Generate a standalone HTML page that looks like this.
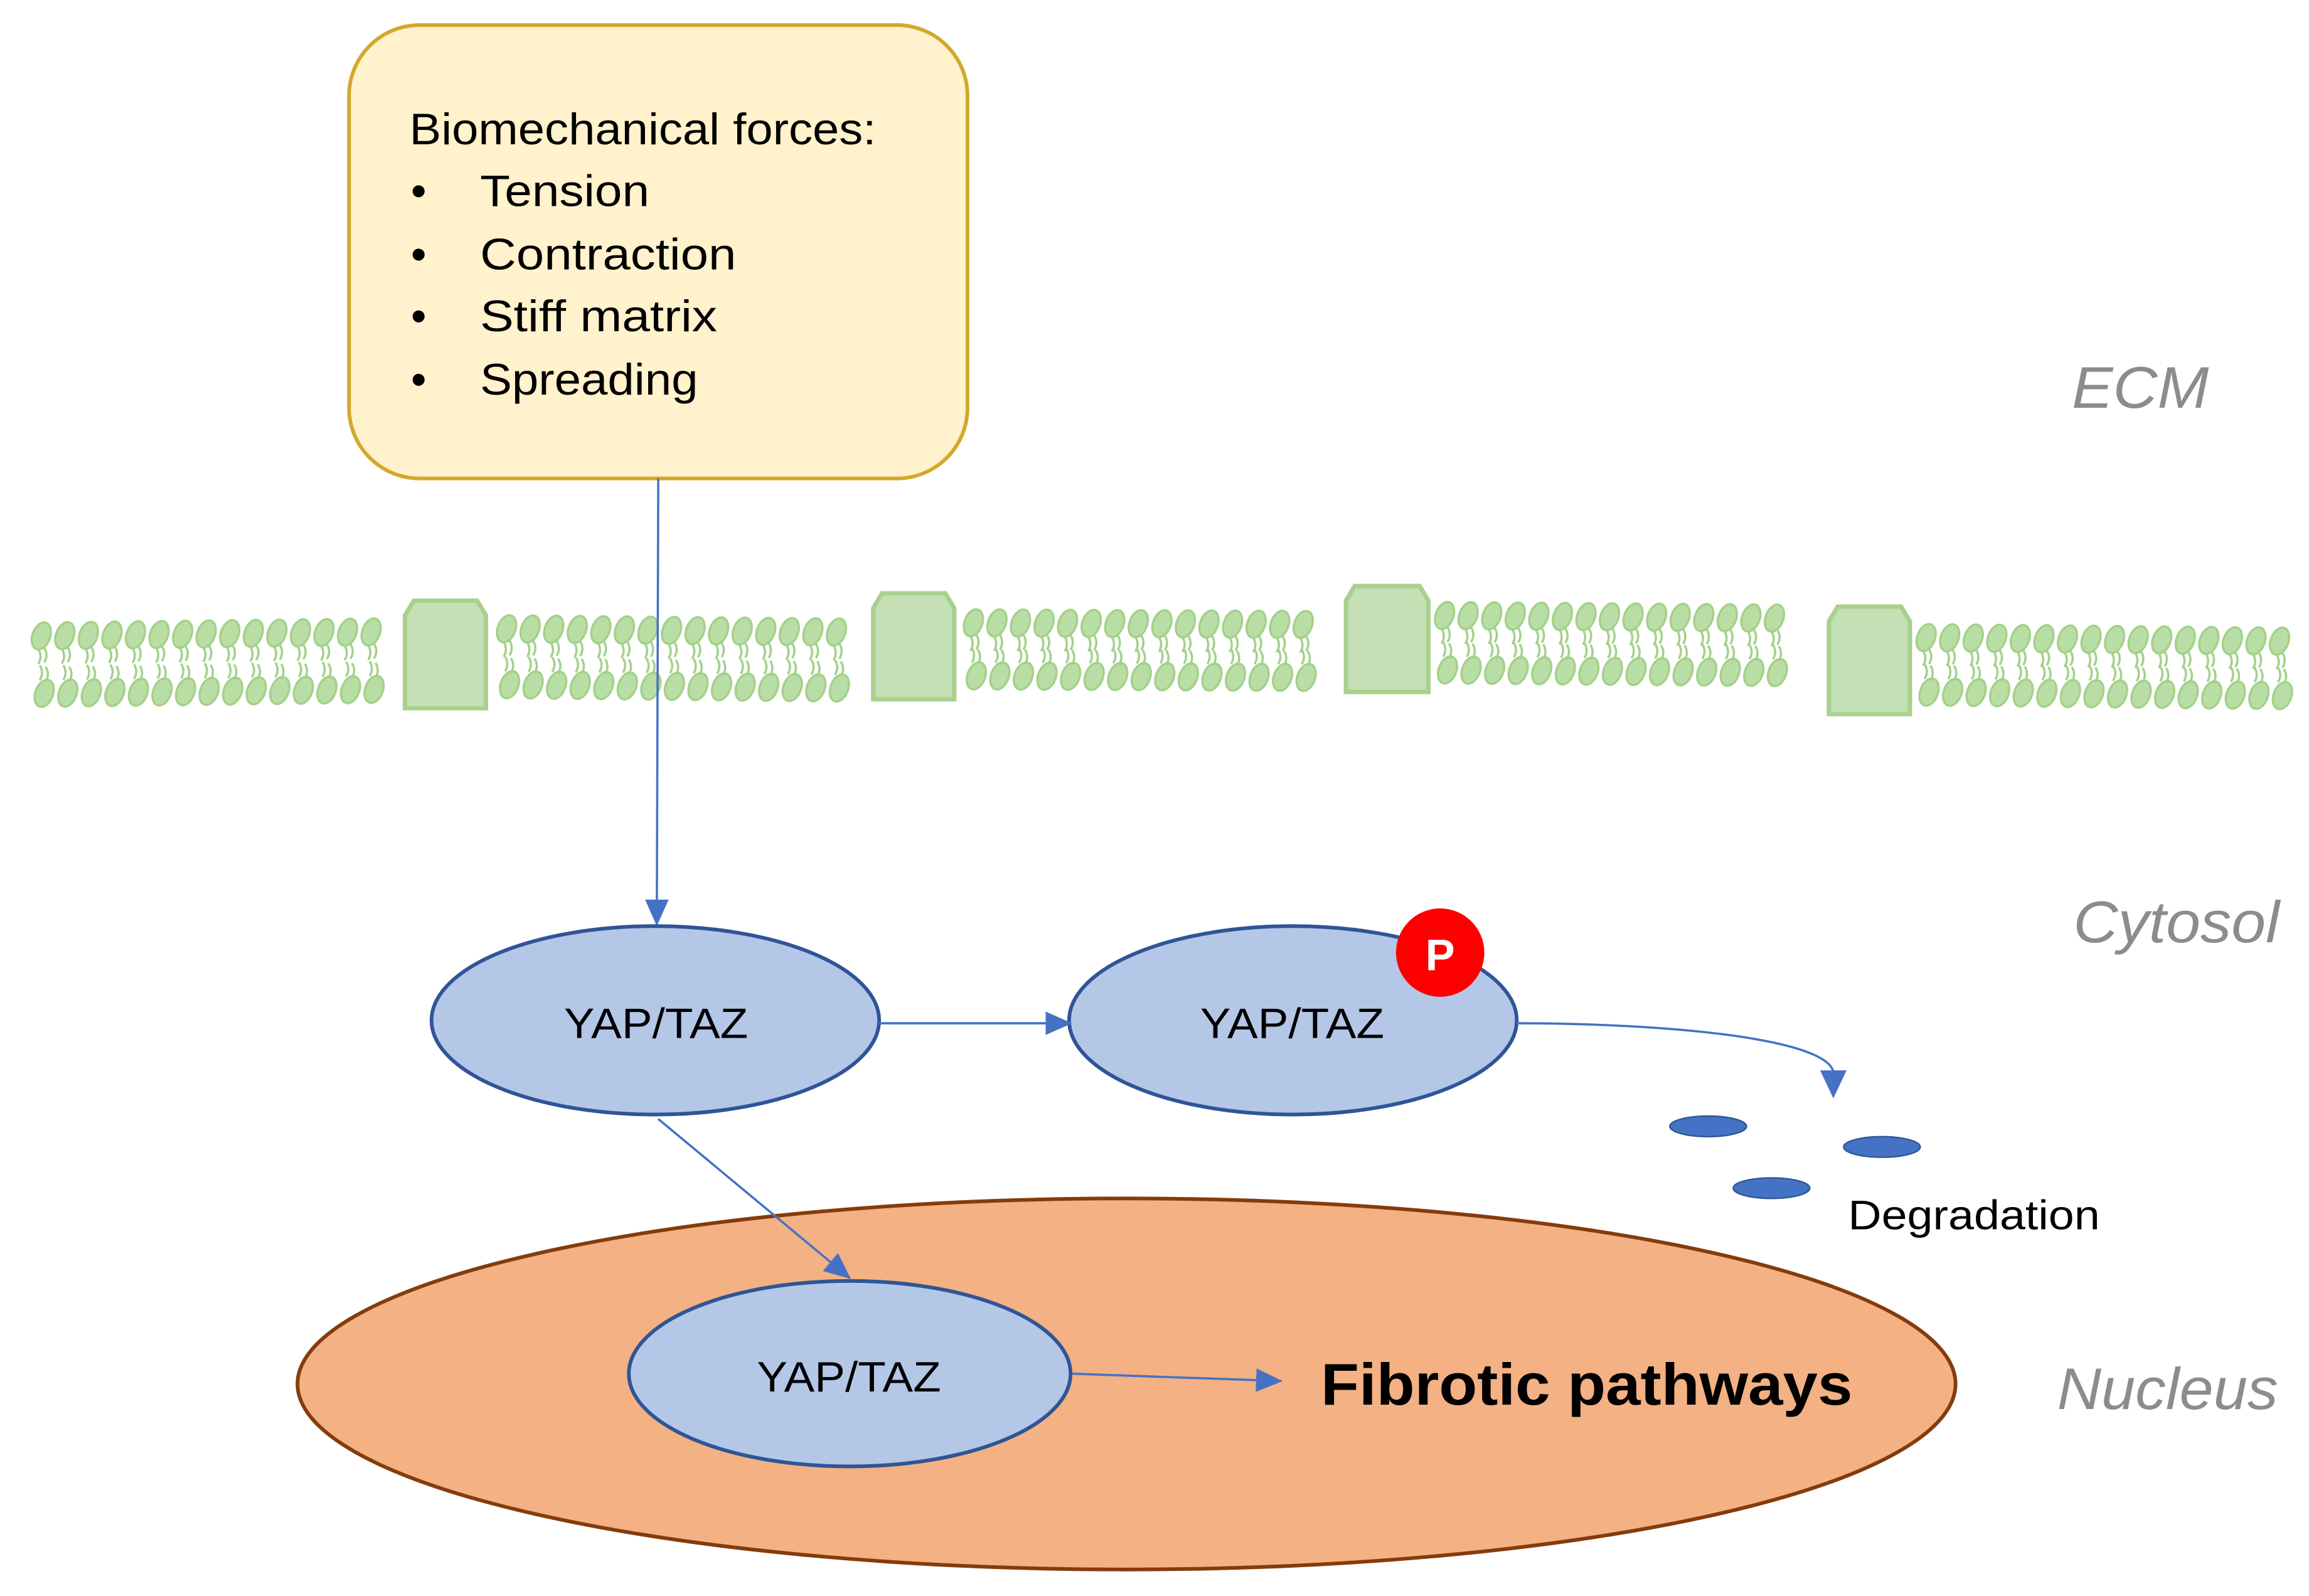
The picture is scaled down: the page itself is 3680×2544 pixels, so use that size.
<!DOCTYPE html>
<html><head><style>html,body{margin:0;padding:0;background:#fff}svg{display:block}</style></head>
<body>
<svg id="s" width="3680" height="2544" viewBox="0 0 1568 1084" xmlns="http://www.w3.org/2000/svg">
<defs>
<marker id="b" markerWidth="18" markerHeight="16" refX="17" refY="8" orient="auto" markerUnits="userSpaceOnUse" viewBox="0 0 18 16"><path d="M0,0 L18,8 L0,16 z" fill="#4472c4"/></marker>
</defs>
<rect width="1568" height="1084" fill="#fff"/>
<rect x="237" y="17" width="420" height="308" rx="48" fill="#fff2cc" stroke="#d3a82a" stroke-width="2.5"/>
<g font-family="Liberation Sans, sans-serif" font-size="30" fill="#000" lengthAdjust="spacingAndGlyphs">
<text x="278" y="98" textLength="317" lengthAdjust="spacingAndGlyphs">Biomechanical forces:</text>
<text x="279" y="140">•</text><text x="326" y="140" textLength="115" lengthAdjust="spacingAndGlyphs">Tension</text>
<text x="279" y="183">•</text><text x="326" y="183" textLength="174" lengthAdjust="spacingAndGlyphs">Contraction</text>
<text x="279" y="225">•</text><text x="326" y="225" textLength="161" lengthAdjust="spacingAndGlyphs">Stiff matrix</text>
<text x="279" y="268">•</text><text x="326" y="268" textLength="148" lengthAdjust="spacingAndGlyphs">Spreading</text>
</g>
<g font-family="Liberation Sans, sans-serif" font-style="italic" font-size="40" fill="#8c8c8c">
<text x="1407" y="277" textLength="93" lengthAdjust="spacingAndGlyphs">ECM</text>
<text x="1408" y="640" textLength="140" lengthAdjust="spacingAndGlyphs">Cytosol</text>
<text x="1397" y="957" textLength="150" lengthAdjust="spacingAndGlyphs">Nucleus</text>
</g>
<g id="mem"></g>
<line x1="447" y1="325" x2="446" y2="628" stroke="#4472c4" stroke-width="1.5" marker-end="url(#b)"/>
<ellipse cx="765" cy="940" rx="563" ry="126" fill="#f4b183" stroke="#843c0c" stroke-width="2.5"/>
<g font-family="Liberation Sans, sans-serif" font-size="29" fill="#000">
<ellipse cx="445" cy="693" rx="152" ry="64" fill="#b4c7e7" stroke="#2f5597" stroke-width="2.5"/>
<text x="383" y="705" textLength="125" lengthAdjust="spacingAndGlyphs">YAP/TAZ</text>
<ellipse cx="878" cy="693" rx="152" ry="64" fill="#b4c7e7" stroke="#2f5597" stroke-width="2.5"/>
<text x="815" y="705" textLength="125" lengthAdjust="spacingAndGlyphs">YAP/TAZ</text>
<ellipse cx="577" cy="933" rx="150" ry="63" fill="#b4c7e7" stroke="#2f5597" stroke-width="2.5"/>
<text x="514" y="945" textLength="125" lengthAdjust="spacingAndGlyphs">YAP/TAZ</text>
</g>
<circle cx="978" cy="647" r="30" fill="#ff0000"/>
<text x="978" y="659" font-family="Liberation Sans, sans-serif" font-weight="bold" font-size="30" fill="#fff" text-anchor="middle">P</text>
<line x1="597" y1="695" x2="727" y2="695" stroke="#4472c4" stroke-width="1.5" marker-end="url(#b)"/>
<path d="M1030,695 C1130,695 1240,705 1245,728" fill="none" stroke="#4472c4" stroke-width="1.5"/>
<path d="M1236,727 L1254,727 L1245,746 z" fill="#4472c4"/>
<line x1="447" y1="760" x2="577" y2="868" stroke="#4472c4" stroke-width="1.5" marker-end="url(#b)"/>
<line x1="728" y1="933" x2="870" y2="938" stroke="#4472c4" stroke-width="1.5" marker-end="url(#b)"/>
<ellipse cx="1160" cy="765" rx="26" ry="7" fill="#4472c4" stroke="#2f5597"/>
<ellipse cx="1278" cy="779" rx="26" ry="7" fill="#4472c4" stroke="#2f5597"/>
<ellipse cx="1203" cy="807" rx="26" ry="7" fill="#4472c4" stroke="#2f5597"/>
<text x="1255" y="835" font-family="Liberation Sans, sans-serif" font-size="28" fill="#000" textLength="171" lengthAdjust="spacingAndGlyphs">Degradation</text>
<text x="897" y="954" font-family="Liberation Sans, sans-serif" font-weight="bold" font-size="40" fill="#000" textLength="361" lengthAdjust="spacingAndGlyphs">Fibrotic pathways</text>
</svg>
<script>
(function(){
var g=document.getElementById('mem'),h='';
var segs=[[22,268,432,471,-0.012],[338,585,427,465,0.01],[655,905,423,459,0.005],[975,1225,418,455,0.008],[1302,1555,433,470,0.01]];
segs.forEach(function(s){
 for(var x=s[0]+6;x<=s[1]-5;x+=16){
  var d=(x-s[0])*s[4];var t=s[2]+d,b=s[3]+d;
  h+='<g fill="#b9dea5" stroke="#a3d18a" stroke-width="1.5">';
  h+='<ellipse cx="'+x+'" cy="'+t+'" rx="6" ry="9.5" transform="rotate(20 '+x+' '+t+')"/>';
  h+='<ellipse cx="'+(x+2)+'" cy="'+b+'" rx="6" ry="9.5" transform="rotate(20 '+(x+2)+' '+b+')"/></g>';
  h+='<path d="M'+(x-2)+','+(t+9)+' q3,5 0,10 M'+(x+2)+','+(t+8)+' q3,5 0,10 M'+(x-1)+','+(b-19)+' q3,5 0,10 M'+(x+3)+','+(b-18)+' q3,5 0,10" fill="none" stroke="#a3d18a" stroke-width="1.5"/>';
 }
});
[[275,408,330,481],[593,403,648,475],[914,398,970,470],[1242,412,1297,485]].forEach(function(p){
 var x1=p[0],y1=p[1],x2=p[2],y2=p[3];
 h+='<path d="M'+x1+','+(y1+10)+' L'+(x1+6)+','+y1+' L'+(x2-6)+','+y1+' L'+x2+','+(y1+10)+' L'+x2+','+y2+' L'+x1+','+y2+' z" fill="#c5e0b4" stroke="#a9d18e" stroke-width="3"/>';
});
g.innerHTML=h;
})();
</script>
</body></html>
